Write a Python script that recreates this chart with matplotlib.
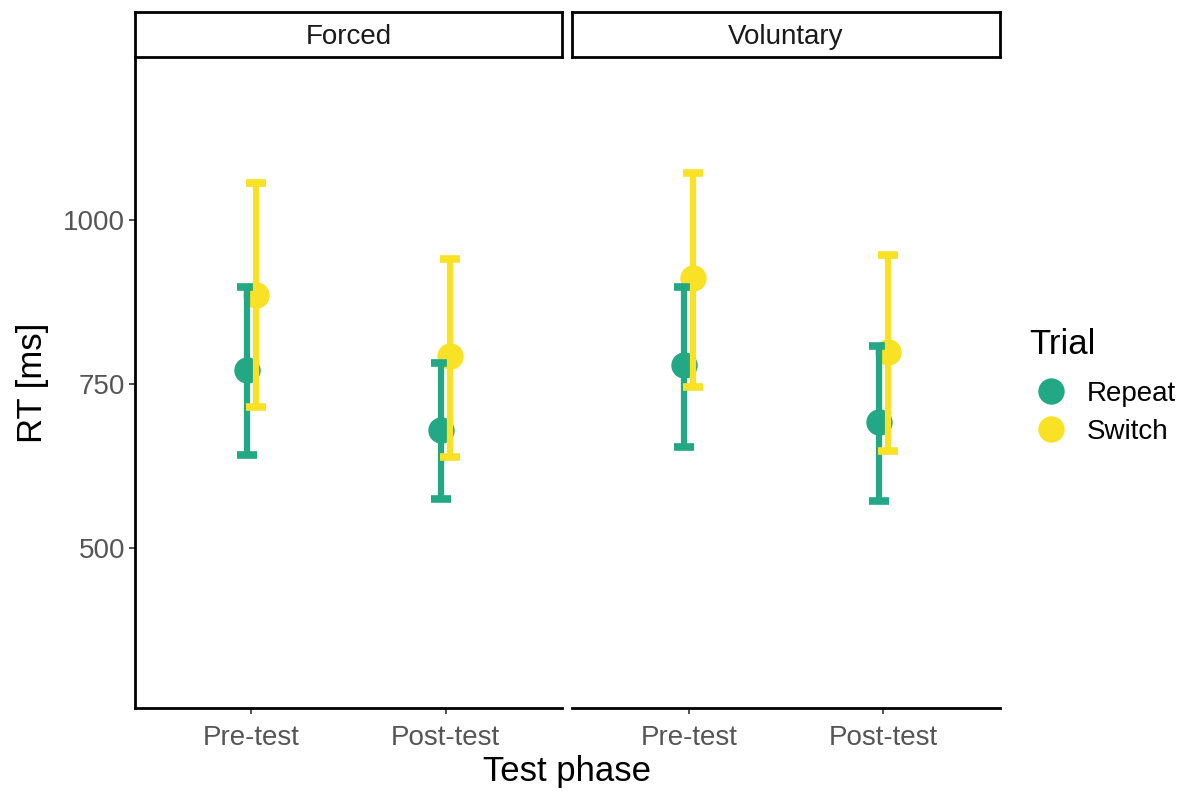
import matplotlib.pyplot as plt
from matplotlib.lines import Line2D

plt.rcParams['font.family'] = ['Liberation Sans', 'DejaVu Sans']

# mean RT and interval bounds per test phase (Pre-test, Post-test)
phases = ["Pre-test", "Post-test"]
conditions = ["Forced", "Voluntary"]

repeat_mean = {"Forced": [771, 680], "Voluntary": [779, 692]}
repeat_lo = {"Forced": [642, 574], "Voluntary": [654, 571]}
repeat_hi = {"Forced": [898, 782], "Voluntary": [898, 807]}

switch_mean = {"Forced": [886, 792], "Voluntary": [911, 799]}
switch_lo = {"Forced": [715, 639], "Voluntary": [745, 647]}
switch_hi = {"Forced": [1056, 940], "Voluntary": [1071, 947]}

green = "#22A884"
yellow = "#F9E126"
tick_col = "#555555"

W, H = 1188, 791
fig = plt.figure(figsize=(W / 100, H / 100), dpi=100)

def fx(px):
    return px / W

def fy(px):
    return 1 - px / H

panel_bottom, panel_top = 708, 57
panels = [(135, 562), (572, 1000)]
dodge = 0.022

axes = []
for i, (cond, (x0, x1)) in enumerate(zip(conditions, panels)):
    ax = fig.add_axes([fx(x0), fy(panel_bottom), fx(x1 - x0), (panel_bottom - panel_top) / H])
    axes.append(ax)
    xs = [1, 2]
    groups = [
        (repeat_mean[cond], repeat_lo[cond], repeat_hi[cond], green, -dodge, 3),
        (switch_mean[cond], switch_lo[cond], switch_hi[cond], yellow, dodge, 4),
    ]
    # points underneath, error bars on top
    for mean, lo, hi, col, off, z in groups:
        ax.plot([x + off for x in xs], mean, 'o', color=col, markersize=19,
                markeredgewidth=0, zorder=2)
    for mean, lo, hi, col, off, z in groups:
        err = [[m - l for m, l in zip(mean, lo)], [h - m for m, h in zip(mean, hi)]]
        ax.errorbar([x + off for x in xs], mean, yerr=err, fmt='none', ecolor=col,
                    elinewidth=4.5, capsize=7, capthick=5.5, zorder=z)

    ax.set_xlim(0.4, 2.6)
    ax.set_ylim(256, 1248)
    ax.set_xticks(xs)
    ax.set_xticklabels(phases)
    ax.set_yticks([500, 750, 1000])
    ax.tick_params(axis='both', colors='#333333', labelcolor=tick_col, labelsize=20,
                   length=4, width=1.2)
    ax.tick_params(axis='x', pad=8)
    ax.tick_params(axis='y', pad=3)
    for s in ['top', 'right']:
        ax.spines[s].set_visible(False)
    ax.spines['bottom'].set_linewidth(2)
    ax.spines['left'].set_linewidth(2)
    if i > 0:
        ax.spines['left'].set_visible(False)
        ax.tick_params(axis='y', left=False, labelleft=False)

    # facet strip
    sax = fig.add_axes([fx(x0), fy(panel_top), fx(x1 - x0), 45 / H])
    sax.set_xticks([])
    sax.set_yticks([])
    for s in sax.spines.values():
        s.set_linewidth(2)
    sax.text(0.5, 0.44, cond, ha='center', va='center', fontsize=20, color='#1A1A1A')

axes[0].set_ylabel("RT [ms]", fontsize=25, labelpad=10)
fig.text(fx(567), fy(772), "Test phase", ha='center', va='center', fontsize=25)

# legend: title placed separately so the gap above the keys can be set
fig.text(fx(1029), fy(345), "Trial", ha='left', va='center', fontsize=25)
handles = [Line2D([], [], marker='o', linestyle='', color=green, markersize=19, markeredgewidth=0),
           Line2D([], [], marker='o', linestyle='', color=yellow, markersize=19, markeredgewidth=0)]
leg = fig.legend(handles, ["Repeat", "Switch"], loc='upper left',
                 bbox_to_anchor=(fx(1030), fy(381)), frameon=False, fontsize=20,
                 borderpad=0, borderaxespad=0, handletextpad=0.55,
                 labelspacing=0.42, handlelength=1.5)

fig.savefig("out.png", dpi=100)
